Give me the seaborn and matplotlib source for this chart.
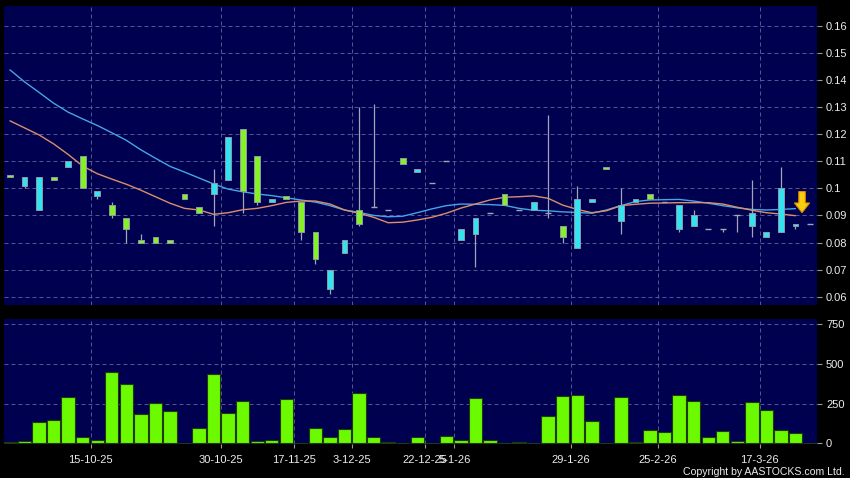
import numpy as np
import pandas as pd
import matplotlib
matplotlib.use("Agg")
import matplotlib.pyplot as plt
from matplotlib.patches import FancyArrow
import seaborn as sns

# ---------------- data ----------------
opens = [0.105, 0.101, 0.092, 0.104, 0.108, 0.112, 0.097, 0.094, 0.089, 0.081,
         0.082, 0.081, 0.098, 0.093, 0.098, 0.103, 0.122, 0.112, 0.095, 0.097,
         0.095, 0.084, 0.063, 0.076, 0.092, 0.093, 0.092, 0.111, 0.106, 0.102,
         0.110, 0.081, 0.083, 0.091, 0.098, 0.092, 0.092, 0.091, 0.086, 0.078,
         0.095, 0.108, 0.088, 0.095, 0.098, 0.095, 0.085, 0.086, 0.085, 0.085,
         0.090, 0.086, 0.082, 0.084, 0.086, 0.087]
closes = [0.104, 0.104, 0.104, 0.103, 0.110, 0.100, 0.099, 0.090, 0.085, 0.080,
          0.080, 0.080, 0.096, 0.091, 0.102, 0.119, 0.099, 0.095, 0.096, 0.096,
          0.084, 0.074, 0.070, 0.081, 0.087, 0.093, 0.092, 0.109, 0.107, 0.102,
          0.110, 0.085, 0.089, 0.091, 0.094, 0.092, 0.095, 0.091, 0.082, 0.096,
          0.096, 0.107, 0.094, 0.096, 0.096, 0.095, 0.094, 0.090, 0.085, 0.085,
          0.090, 0.091, 0.084, 0.100, 0.087, 0.087]
highs = [0.105, 0.104, 0.104, 0.104, 0.110, 0.112, 0.099, 0.095, 0.089, 0.083,
         0.082, 0.081, 0.098, 0.093, 0.107, 0.119, 0.122, 0.112, 0.096, 0.097,
         0.095, 0.084, 0.070, 0.081, 0.130, 0.131, 0.092, 0.111, 0.107, 0.102,
         0.110, 0.085, 0.089, 0.091, 0.098, 0.092, 0.095, 0.127, 0.086, 0.101,
         0.096, 0.108, 0.100, 0.096, 0.098, 0.095, 0.094, 0.092, 0.085, 0.085,
         0.090, 0.103, 0.084, 0.108, 0.087, 0.087]
lows = [0.104, 0.100, 0.092, 0.103, 0.108, 0.100, 0.096, 0.089, 0.080, 0.080,
        0.080, 0.080, 0.096, 0.091, 0.086, 0.103, 0.091, 0.094, 0.095, 0.096,
        0.081, 0.072, 0.061, 0.076, 0.086, 0.093, 0.092, 0.109, 0.106, 0.102,
        0.110, 0.081, 0.071, 0.091, 0.094, 0.092, 0.092, 0.089, 0.080, 0.078,
        0.095, 0.107, 0.083, 0.095, 0.096, 0.095, 0.084, 0.086, 0.085, 0.084,
        0.084, 0.082, 0.082, 0.084, 0.085, 0.087]
volumes = [6, 12, 137, 149, 292, 42, 21, 450, 374, 185,
           256, 204, 0, 95, 435, 189, 269, 13, 21, 281,
           2, 97, 40, 92, 319, 40, 8, 0, 42, 4,
           46, 19, 286, 21, 0, 6, 0, 170, 298, 302,
           139, 0, 290, 6, 86, 74, 305, 265, 42, 80,
           15, 261, 212, 82, 67, 0]
ma_long = [0.1437, 0.1393, 0.1354, 0.1314, 0.1281, 0.1256, 0.1232, 0.1205, 0.1177, 0.1142,
           0.1111, 0.1081, 0.1060, 0.1038, 0.1016, 0.0997, 0.0987, 0.0979, 0.0973, 0.0965,
           0.0957, 0.0949, 0.0936, 0.0920, 0.0911, 0.0900, 0.0895, 0.0897, 0.0910, 0.0924,
           0.0936, 0.0942, 0.0941, 0.0940, 0.0937, 0.0926, 0.0919, 0.0917, 0.0913, 0.0911,
           0.0908, 0.0920, 0.0936, 0.0951, 0.0957, 0.0958, 0.0959, 0.0953, 0.0945, 0.0936,
           0.0928, 0.0922, 0.0920, 0.0922, 0.0925, np.nan]
ma_short = [0.1249, 0.1223, 0.1197, 0.1164, 0.1125, 0.1082, 0.1054, 0.1034, 0.1015, 0.0993,
            0.0969, 0.0945, 0.0926, 0.0920, 0.0904, 0.0910, 0.0921, 0.0926, 0.0936, 0.0948,
            0.0953, 0.0953, 0.0942, 0.0920, 0.0908, 0.0893, 0.0873, 0.0875, 0.0883, 0.0893,
            0.0908, 0.0927, 0.0942, 0.0957, 0.0967, 0.0969, 0.0972, 0.0963, 0.0938, 0.0922,
            0.0910, 0.0917, 0.0936, 0.0941, 0.0945, 0.0946, 0.0947, 0.0947, 0.0947, 0.0942,
            0.0930, 0.0919, 0.0910, 0.0905, 0.0899, np.nan]
date_labels = ['15-10-25', '30-10-25', '17-11-25', '3-12-25', '22-12-25',
               '5-1-26', '29-1-26', '25-2-26', '17-3-26']
date_pos = [5.55, 14.5, 19.5, 23.5, 28.55, 30.55, 38.55, 44.55, 51.55]
price_ticks = [0.06, 0.07, 0.08, 0.09, 0.10, 0.11, 0.12, 0.13, 0.14, 0.15, 0.16]
price_labels = ['0.06', '0.07', '0.08', '0.09', '0.1', '0.11', '0.12', '0.13', '0.14', '0.15', '0.16']
vol_ticks = [0, 250, 500, 750]
arrow_index = 54.45
arrow_top = 0.0988
arrow_tip = 0.0910

# ---------------- style ----------------
sns.set_theme(style="dark")
plt.rcParams['font.family'] = ['Liberation Sans', 'DejaVu Sans']

BG = '#000050'
GRID = '#55558f'
CYAN = '#33e3f2'
GREEN = '#84f224'
OUTLINE = '#8c9aa8'
WICK = '#a4a4b8'
BLUE = '#44a6e6'
ORANGE = '#dc8e6a'
VOLC = '#6cfa00'
TXT = '#ececec'

n = len(opens)
idx = np.arange(n)
df = pd.DataFrame({'i': idx, 'open': opens, 'close': closes, 'high': highs,
                   'low': lows, 'vol': volumes, 'ma_l': ma_long, 'ma_s': ma_short})

fig = plt.figure(figsize=(8.5, 4.78), dpi=100, facecolor='black')
ax = fig.add_axes([4/850, (478-305)/478, 813/850, 299/478])
axv = fig.add_axes([4/850, (478-444)/478, 813/850, 125/478])

for a in (ax, axv):
    a.set_facecolor(BG)
    for s in a.spines.values():
        s.set_visible(False)
    a.set_xlim(-0.41, 55.48)
    a.grid(False)
    for p in date_pos:
        a.axvline(p, color=GRID, lw=0.72, ls=(0, (4, 3)), zorder=0.5)

# price grid
for t in price_ticks:
    ax.axhline(t, color=GRID, lw=0.72, ls=(0, (4, 3)), zorder=0.5)
for t in vol_ticks[1:]:
    axv.axhline(t, color=GRID, lw=0.72, ls=(0, (4, 3)), zorder=0.5)

# moving averages
sns.lineplot(data=df, x='i', y='ma_l', ax=ax, color=BLUE, lw=1.0, zorder=2)
sns.lineplot(data=df, x='i', y='ma_s', ax=ax, color=ORANGE, lw=1.0, zorder=2)

# candles
ax.vlines(df['i'], df['low'], df['high'], color=WICK, lw=0.9, zorder=3)
up = df[df['close'] > df['open']]
dn = df[df['close'] < df['open']]
dj = df[df['close'] == df['open']]
bw = 0.40
ax.bar(up['i'], up['close'] - up['open'], bottom=up['open'], width=bw,
       color=CYAN, edgecolor=OUTLINE, lw=0.7, zorder=4)
ax.bar(dn['i'], dn['open'] - dn['close'], bottom=dn['close'], width=bw,
       color=GREEN, edgecolor=OUTLINE, lw=0.7, zorder=4)
ax.hlines(dj['open'], dj['i'] - bw/2, dj['i'] + bw/2, color=WICK, lw=1.0, zorder=4)

# arrow
arr = FancyArrow(arrow_index, arrow_top, 0, arrow_tip - arrow_top, width=0.45,
                 head_width=1.05, head_length=0.0036, length_includes_head=True,
                 facecolor='#f8cc10', edgecolor='#d88a00', lw=0.8, zorder=6)
ax.add_patch(arr)

ax.set_ylim(0.05694, 0.16727)
ax.yaxis.tick_right()
ax.set_yticks(price_ticks)
ax.set_yticklabels(price_labels)
ax.set_xticks([])
ax.set_xlabel('')
ax.set_ylabel('')
ax.tick_params(axis='y', colors='#9a9a9a', labelcolor=TXT, length=3.5, width=0.8,
               pad=3, labelsize=8, right=True, left=False)

# volume
sns.barplot(data=df, x='i', y='vol', ax=axv, native_scale=True, color=VOLC,
            width=0.92, edgecolor='#1e3a10', linewidth=0.8, saturation=1,
            errorbar=None, zorder=3)
axv.set_xlim(-0.41, 55.48)
axv.set_ylim(-4.4, 783)
axv.yaxis.tick_right()
axv.set_yticks(vol_ticks)
axv.set_yticklabels([str(v) for v in vol_ticks])
axv.set_xticks(date_pos)
axv.set_xticklabels(date_labels)
axv.set_xlabel('')
axv.set_ylabel('')
axv.tick_params(axis='y', colors='#9a9a9a', labelcolor=TXT, length=3.5, width=0.8,
                pad=3, labelsize=8, right=True, left=False)
axv.tick_params(axis='x', colors='#9a9a9a', labelcolor=TXT, length=3, width=0.8,
                pad=5, labelsize=8, bottom=True, direction='out')

fig.text(845/850, 1 - 472/478, 'Copyright by AASTOCKS.com Ltd.', color=TXT,
         fontsize=7.6, ha='right', va='center')

fig.savefig('out.png', dpi=100, facecolor='black')
